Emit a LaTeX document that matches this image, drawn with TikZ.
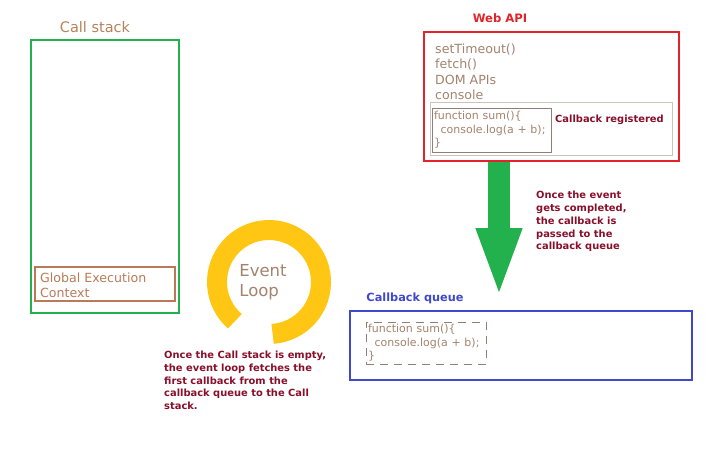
\documentclass[tikz,border=0pt]{standalone}
\usepackage{fontspec}
\setmainfont{DejaVu Sans}
\usepackage{xcolor}
\usetikzlibrary{arrows.meta,positioning}
\definecolor{stackgreen}{HTML}{22B14C}
\definecolor{gecbrown}{HTML}{B97A57}
\definecolor{labelbrown}{HTML}{B5825C}
\definecolor{textbrown}{HTML}{A3826E}
\definecolor{apired}{HTML}{E42229}
\definecolor{queueblue}{HTML}{3F48CC}
\definecolor{notered}{HTML}{880F2A}
\definecolor{loopyellow}{HTML}{FFC713}
\definecolor{codegray}{HTML}{8E7F78}
\definecolor{paleline}{HTML}{CFC2B6}
\tikzset{%
	panel/.style     = {draw, rectangle, line width=2.5pt, inner sep=0pt},
	paneltitle/.style= {inner sep=0pt, font=\fontsize{14.5}{16}\selectfont},
	listtext/.style  = {inner sep=0pt, align=left, text=textbrown, font=\fontsize{12.6}{15.5}\selectfont},
	codebox/.style   = {draw, rectangle, line width=0.8pt, align=left, inner xsep=2pt, inner ysep=1pt, text=textbrown, font=\fontsize{11}{13.5}\selectfont},
	notetext/.style  = {inner sep=0pt, align=left, text=notered, font=\bfseries\fontsize{9.9}{12.8}\selectfont},
	passarrow/.style = {line width=22pt, draw=stackgreen, -{Triangle[length=70pt,width=41pt]}},
}
\begin{document}
\begin{tikzpicture}[x=1pt,y=-1pt]
	\useasboundingbox (0,0) rectangle (720,463);
	% call stack
	\node[paneltitle, text=labelbrown] (stacklabel) at (95,27) {Call stack};
	\node[panel, draw=stackgreen, minimum width=148pt, minimum height=273pt] (callstack) at (105,176.5) {};
	\node[panel, draw=gecbrown, line width=2pt, minimum width=140pt, minimum height=34pt] (gec) at (105,284) {};
	\node[listtext, text=gecbrown, font=\fontsize{12.6}{15}\selectfont, anchor=west] (gectext) at (40,285.5) {Global Execution\\Context};
	
	% event loop
	\coordinate (loop) at (269,282);
	\draw[line width=20pt, loopyellow] (loop) ++(86:52) arc[start angle=86, end angle=-229, radius=52];
	\node[listtext, font=\fontsize{16.5}{20}\selectfont] (looptext) at (263,282) {Event\\Loop};
	\node[notetext, anchor=west] (loopnote) at (164,380.5) {Once the Call stack is empty,\\the event loop fetches the\\first callback from the\\callback queue to the Call\\stack.};
	
	% web api
	\node[paneltitle, text=apired, font=\bfseries\fontsize{11.6}{13}\selectfont] (apilabel) at (500,18) {Web API};
	\node[panel, draw=apired, minimum width=255pt, minimum height=129pt] (webapi) at (551.5,96.5) {};
	\node[listtext, anchor=west] (apilist) at (435,72) {setTimeout()\\fetch()\\DOM APIs\\console};
	\node[draw=paleline, line width=0.8pt, minimum width=242pt, minimum height=53pt, inner sep=0pt] (registry) at (551,128.5) {};
	\node[codebox, draw=codegray, text width=115pt, minimum height=44pt] (webfn) at (491.5,130) {function sum()\{\\\hspace{0.6em}console.log(a + b);\\\}};
	\node[notetext, anchor=west] (registered) at (555,120) {Callback registered};
	
	% callback passed on
	\coordinate (droptip) at (499,298);
	\draw[passarrow] (webapi.south -| droptip) -- (droptip);
	\node[notetext, anchor=west] (passnote) at (536,221.5) {Once the event\\gets completed,\\the callback is\\passed to the\\callback queue};
	
	% callback queue
	\node[paneltitle, text=queueblue, font=\bfseries\fontsize{11.3}{13}\selectfont] (queuelabel) at (415,298) {Callback queue};
	\node[panel, draw=queueblue, minimum width=342pt, minimum height=69pt] (cbqueue) at (521,345.5) {};
	\node[codebox, draw=codegray, dashed, dash pattern=on 8pt off 6pt, text width=116pt, minimum height=42pt] (queuedfn) at (426,343) {function sum()\{\\\hspace{0.6em}console.log(a + b);\\\}};
\end{tikzpicture}
\end{document}
